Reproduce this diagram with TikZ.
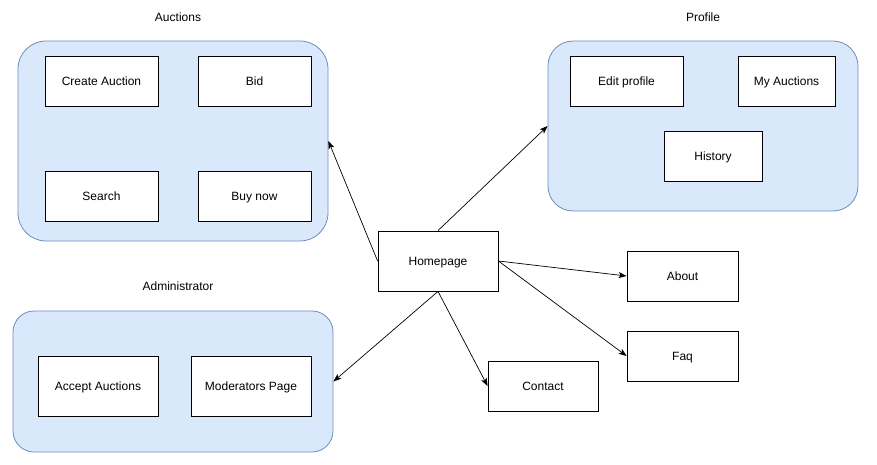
\documentclass[tikz,border=0pt]{standalone}
\usepackage{fontspec}
\setmainfont{Liberation Sans}
\usetikzlibrary{arrows.meta}
\definecolor{groupfill}{HTML}{DAE8FC}
\definecolor{groupline}{HTML}{6C8EBF}
\begin{document}
\begin{tikzpicture}[x=1pt,y=-1pt,
  font=\fontsize{12}{14}\selectfont,
  group/.style={draw=groupline, fill=groupfill, line width=0.8pt, inner sep=0pt},
  page/.style={draw=black, fill=white, line width=0.8pt, inner sep=0pt,
    text height=9.6pt, text depth=0.6pt,
    minimum width=#1, minimum height=50pt},
  page/.default=113pt,
  title/.style={text height=9.6pt, text depth=0.6pt, inner sep=0pt},
  link/.style={draw=black, line width=0.7pt,
    -{Stealth[length=8pt, width=6pt, inset=2pt]}}
]
\useasboundingbox (0,0) rectangle (877,465);

% groups
\node[group, rounded corners=28pt, minimum width=310pt, minimum height=200pt] (auctions) at (173,141) {};
\node[group, rounded corners=25pt, minimum width=310pt, minimum height=170pt] (profile) at (703,126) {};
\node[group, rounded corners=21pt, minimum width=320pt, minimum height=141pt] (admin) at (173,381.5) {};

% group titles
\node[title] (tauctions) at (178,17) {Auctions};
\node[title] (tprofile) at (703,17) {Profile};
\node[title] (tadmin) at (178,286) {Administrator};

% auctions pages
\node[page] (create) at (101.5,81) {Create Auction};
\node[page] (bid) at (254.5,81) {Bid};
\node[page] (search) at (101.5,196) {Search};
\node[page] (buynow) at (254.5,196) {Buy now};

% profile pages
\node[page] (edit) at (626.5,81) {Edit profile};
\node[page=97pt] (myauctions) at (786.5,81) {My Auctions};
\node[page=98pt] (history) at (713,156) {History};

% administrator pages
\node[page=120pt, minimum height=60pt] (accept) at (98,386) {Accept Auctions};
\node[page=120pt, minimum height=60pt] (moderators) at (251,386) {Moderators Page};

% standalone pages
\node[page=120pt, minimum height=60pt] (home) at (438,261) {Homepage};
\node[page=111pt] (about) at (682.5,276) {About};
\node[page=111pt] (faq) at (682.5,356) {Faq};
\node[page=110pt] (contact) at (543,386) {Contact};

% links from the homepage
\draw[link] (home.west) -- (auctions.east);
\draw[link] (home.north) -- (profile.west);
\draw[link] (home.east) -- (about.west);
\draw[link] (home.east) -- (faq.west);
\draw[link] (home.south) -- (contact.west);
\draw[link] (home.south) -- (admin.east);
\end{tikzpicture}
\end{document}
